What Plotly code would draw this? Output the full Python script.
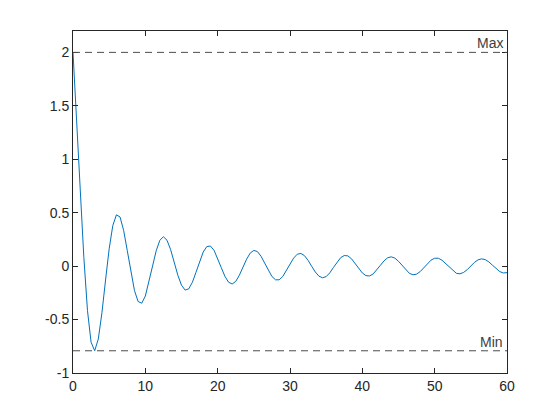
import plotly.graph_objects as go

x_vals = [i * 0.5 for i in range(121)]
y_vals = [
    2.000, 1.404, 0.720, 0.081, -0.416, -0.712, -0.792, -0.681, -0.436, -0.130,
    0.162, 0.378, 0.480, 0.460, 0.335, 0.146, -0.058, -0.229, -0.331, -0.347,
    -0.280, -0.152, 0.001, 0.143, 0.241, 0.275, 0.242, 0.154, 0.034, -0.086,
    -0.179, -0.224, -0.213, -0.152, -0.058, 0.045, 0.132, 0.183, 0.188, 0.148,
    0.074, -0.014, -0.095, -0.150, -0.167, -0.143, -0.085, -0.010, 0.065, 0.122,
    0.147, 0.136, 0.092, 0.028, -0.040, -0.097, -0.128, -0.128, -0.097, -0.043,
    0.019, 0.075, 0.111, 0.119, 0.098, 0.054, -0.002, -0.055, -0.094, -0.109,
    -0.098, -0.063, -0.013, 0.038, 0.079, 0.099, 0.096, 0.069, 0.026, -0.022,
    -0.064, -0.089, -0.092, -0.073, -0.036, 0.008, 0.049, 0.078, 0.087, 0.075,
    0.045, 0.004, -0.036, -0.067, -0.081, -0.075, -0.051, -0.015, 0.024, 0.056,
    0.074, 0.074, 0.056, 0.025, -0.012, -0.045, -0.067, -0.072, -0.059, -0.033,
    0.002, 0.035, 0.059, 0.068, 0.061, 0.039, 0.008, -0.025, -0.051, -0.064,
    -0.061,
]
line_labels = ["Max", "Min"]
line_values = [max(y_vals), min(y_vals)]
x_ticks = [0, 10, 20, 30, 40, 50, 60]
y_ticks = [-1, -0.5, 0, 0.5, 1, 1.5, 2]
y_tick_text = ["-1", "-0.5", "0", "0.5", "1", "1.5", "2"]

fig = go.Figure()
fig.add_trace(go.Scatter(x=x_vals, y=y_vals, mode="lines",
                         line=dict(color="#0072BD", width=1), showlegend=False))

for lab, val in zip(line_labels, line_values):
    fig.add_shape(type="line", xref="paper", yref="y", x0=0, x1=1, y0=val, y1=val,
                  line=dict(color="#4d4d4d", width=1, dash="7px,5px"))
    fig.add_annotation(x=1, xref="paper", y=val, yref="y", text=lab, showarrow=False,
                       xanchor="right", yanchor="bottom", xshift=-2, yshift=-1,
                       font=dict(family="Liberation Sans, Arial", size=14, color="#404040"))

axis_common = dict(showline=True, linecolor="#262626", linewidth=1, mirror="allticks",
                   ticks="inside", ticklen=5, tickcolor="#262626", tickwidth=1,
                   showgrid=False, zeroline=False,
                   tickfont=dict(family="Liberation Sans, Arial", size=14, color="#262626"))

fig.update_xaxes(range=[0, 60], tickvals=x_ticks, **axis_common)
fig.update_yaxes(range=[-1, 2.2], tickvals=y_ticks, ticktext=y_tick_text, **axis_common)

fig.update_layout(width=560, height=420, margin=dict(l=65, r=61, t=23, b=55),
                  paper_bgcolor="white", plot_bgcolor="white")

fig.write_html("out.html")
